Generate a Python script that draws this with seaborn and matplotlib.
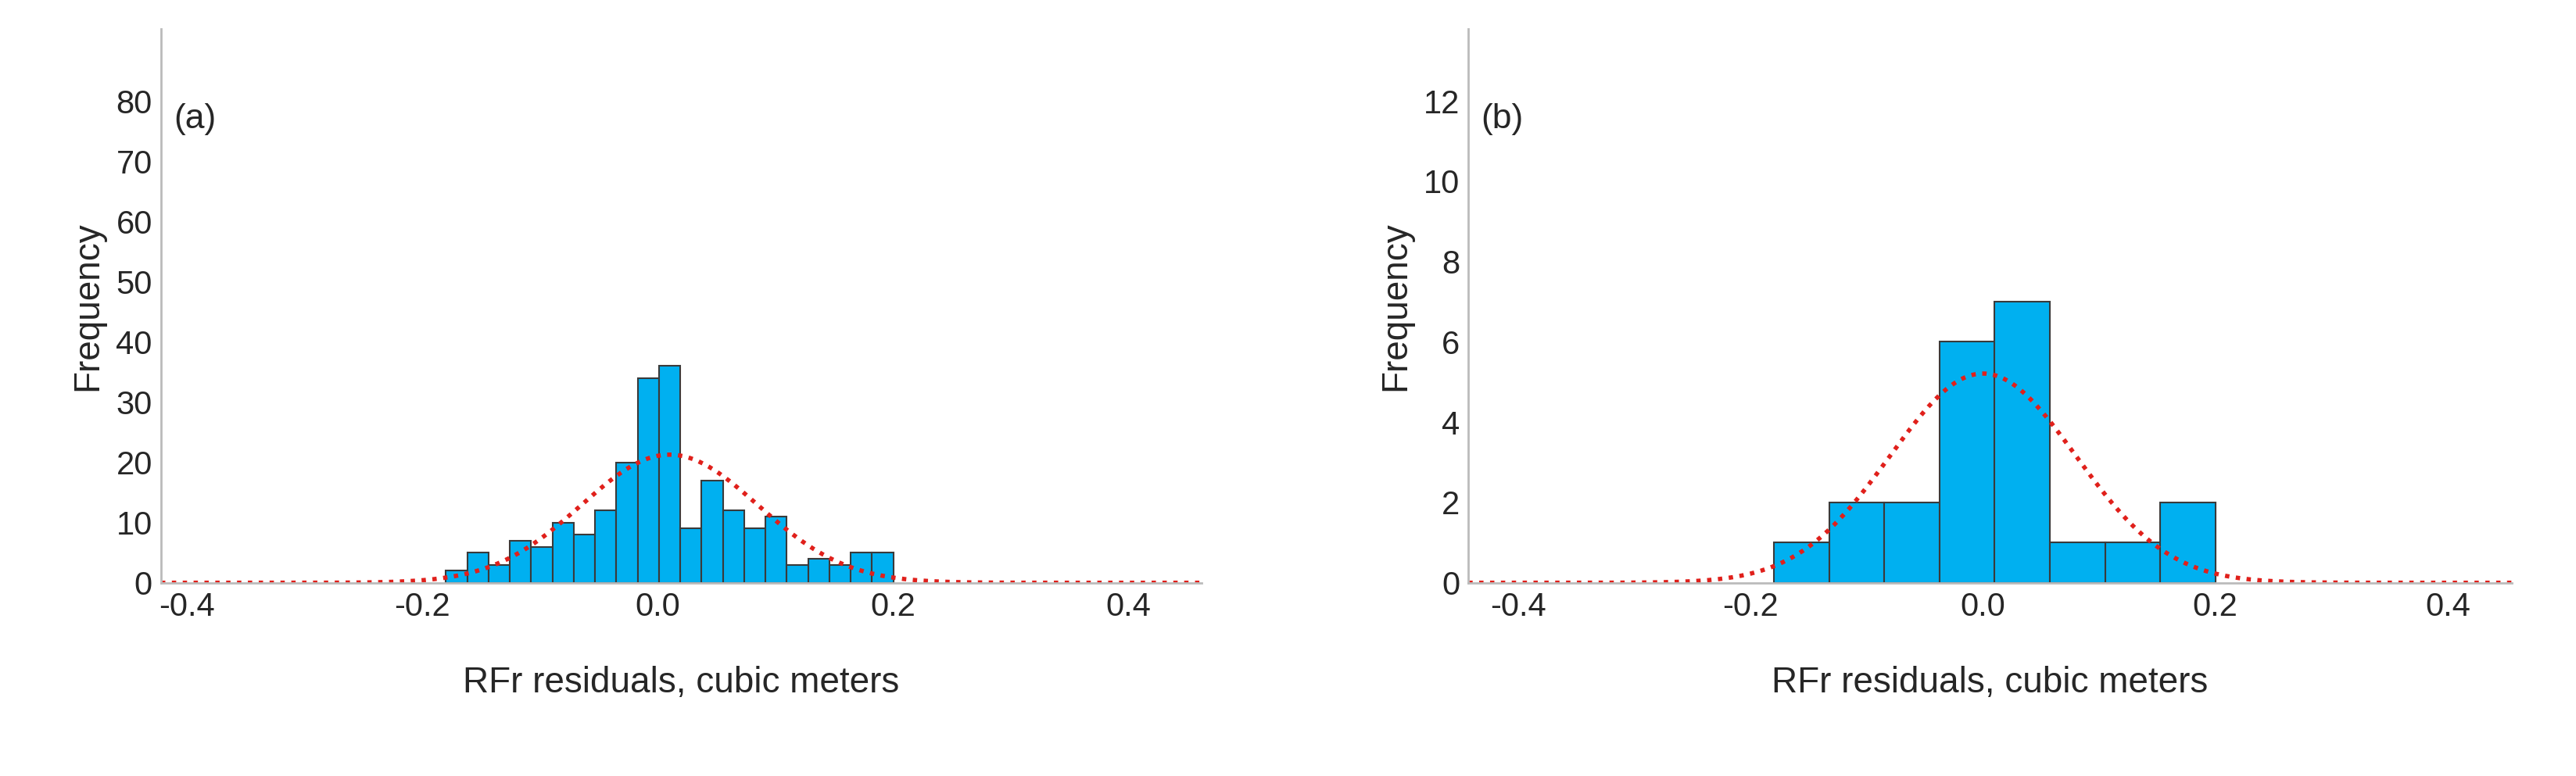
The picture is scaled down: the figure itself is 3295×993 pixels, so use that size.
import numpy as np
import pandas as pd
import matplotlib
matplotlib.use("Agg")
import matplotlib.pyplot as plt
import seaborn as sns

# panel (a): 21 bins between -0.18 and 0.2
counts_a = [2, 5, 3, 7, 6, 10, 8, 12, 20, 34, 36, 9, 17, 12, 9, 11, 3, 4, 3, 5, 5]
edges_a = np.linspace(-0.18, 0.2, len(counts_a) + 1)
mean_a, sd_a = 0.01, 0.075

# panel (b): 8 bins between -0.18 and 0.2
counts_b = [1, 2, 2, 6, 7, 1, 1, 2]
edges_b = np.linspace(-0.18, 0.2, len(counts_b) + 1)
mean_b, sd_b = 0.0, 0.08

sns.set_style("white")
plt.rcParams['font.family'] = ['Liberation Sans', 'DejaVu Sans']

fig = plt.figure(figsize=(32.95, 9.93), dpi=100)
ax_a = fig.add_axes([0.0625, 0.249, 0.404, 0.714])
ax_b = fig.add_axes([0.57, 0.249, 0.405, 0.714])


def draw(ax, counts, edges, mu, sd, xlim, ylim, yticks, tag):
    df = pd.DataFrame({"x": (edges[:-1] + edges[1:]) / 2, "n": counts})
    sns.histplot(data=df, x="x", weights="n", bins=list(edges), ax=ax,
                 color="#00B0F0", alpha=1, edgecolor="#3a3a3a", linewidth=1.5)
    xs = np.linspace(xlim[0], xlim[1], 400)
    w = edges[1] - edges[0]
    ys = sum(counts) * w / (sd * np.sqrt(2 * np.pi)) * np.exp(-0.5 * ((xs - mu) / sd) ** 2)
    sns.lineplot(x=xs, y=ys, ax=ax, color="#e0201b", linestyle=(0, (1, 1.5)), linewidth=4)
    ax.set_xlim(*xlim)
    ax.set_ylim(*ylim)
    ax.set_xticks([-0.4, -0.2, 0.0, 0.2, 0.4])
    ax.set_xticklabels(["-0.4", "-0.2", "0.0", "0.2", "0.4"])
    ax.set_yticks(yticks)
    ax.tick_params(labelsize=30, length=0, pad=8)
    ax.set_xlabel("RFr residuals, cubic meters", fontsize=33, labelpad=40)
    ax.set_ylabel("Frequency", fontsize=33, labelpad=10)
    for s in ["top", "right"]:
        ax.spines[s].set_visible(False)
    for s in ["left", "bottom"]:
        ax.spines[s].set_color("#bbbbbb")
        ax.spines[s].set_linewidth(2)
    ax.text(0.012, 0.82, tag, transform=ax.transAxes, fontsize=32)


draw(ax_a, counts_a, edges_a, mean_a, sd_a, (-0.422, 0.462), (0, 92),
     range(0, 81, 10), "(a)")
draw(ax_b, counts_b, edges_b, mean_b, sd_b, (-0.443, 0.455), (0, 13.8),
     range(0, 13, 2), "(b)")

fig.savefig("out.png", dpi=100)
